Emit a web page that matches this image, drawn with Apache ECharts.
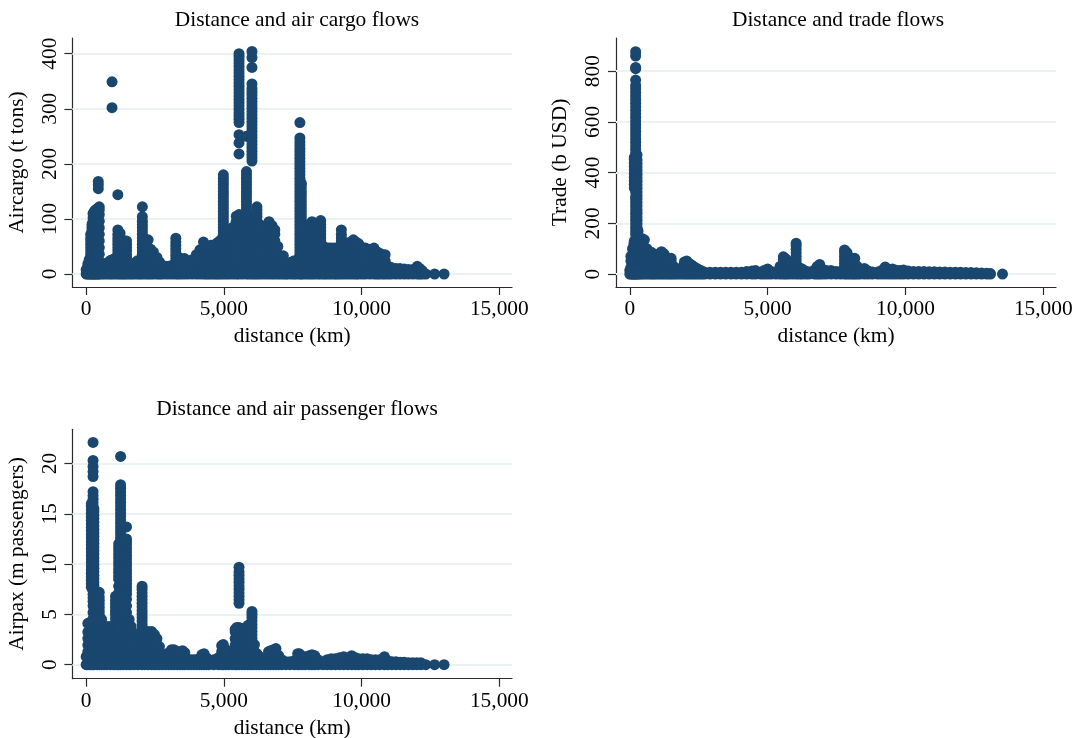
<!DOCTYPE html>
<html><head><meta charset="utf-8">
<style>html,body{margin:0;padding:0;background:#fff}#c{width:1081px;height:738px}</style>
<script src="https://cdn.jsdelivr.net/npm/echarts@6/dist/echarts.min.js"></script>
</head><body><div id="c"></div>
<script>
const titles=['Distance and air cargo flows','Distance and trade flows','Distance and air passenger flows'];
const yNames=['Aircargo (t tons)','Trade (b USD)','Airpax (m passengers)'];
const xName='distance (km)';
const xTicks=[0,5000,10000,15000];
const cargoTicks=[0,100,200,300,400];
const tradeTicks=[0,200,400,600,800];
const paxTicks=[0,5,10,15,20];

const cargoDistance=[0,60,110,165,210,250,300,340,390,440,476,570,660,760,860,939,1040,1150,1230,1310,1390,1465,1560,1650,1740,1860,1950,2040,2150,2250,2340,2440,2570,2660,2750,2880,3000,3130,3255,3350,3450,3570,3700,3850,4000,4130,4260,4350,4440,4530,4630,4720,4800,4890,4980,5090,5200,5330,5450,5550,5680,5820,5920,6020,6110,6200,6300,6410,6530,6640,6750,6850,6960,7060,7160,7250,7325,7450,7550,7640,7760,7810,7900,8010,8110,8200,8300,8420,8515,8620,8700,8800,8890,9000,9080,9170,9265,9370,9480,9590,9700,9800,9890,10020,10140,10300,10450,10560,10640,10760,10855,10970,11080,11240,11390,11550,11700,11860,12020,12110,12200,12330,12650,12995];
const cargoTons=[
[0,8],[0,12,18],[0,12,26],
[0,12,24,30,36,42,48,54,60,66,72],
[0,12,24,36,48,60,66,72,78,84,90],
[0,12,24,36,48,60,72,78,84,90,96,102,110],
[0,12,24,36,48,60,72,84,96,108,114],
[0,12,24,36,48,60,72,84,96,108,116],
[0,12,24,36,48,60,72,84,96,108,118],
[0,12,24,36,48,60,72,84,96,108,120,155,162,168],
[0,12,24,36,48,60,72,84,96,108,116,122],
[0,12,18],[0,12,18],[0,12,20],[0,12,24],
[0,12,26,302,349],[0,12,28],
[0,12,24,30,36,42,48,54,60,66,72,80,144],
[0,12,24,36,48,60,74],[0,12,24,36,48,62],[0,12,24,36,48,60],
[0,12,18,24,30,36,42,48,54,60],
[0,14],[0,12,16],[0,12,20],[0,12,24],[0,12,24],
[0,12,24,30,36,42,48,54,60,66,72,78,84,90,96,104,122],
[0,12,24,36,48,60],[0,12,24,36,48,62],[0,12,24,36,45],[0,12,24,40],[0,12,24,30],[0,12,22],[0,12,16],[0,14],[0,14],[0,16],
[0,12,22,28,34,40,46,52,58,65],
[0,12,24,30],[0,12,28],[0,12,28],[0,13],[0,12,26],[0,12,24,35],[0,12,24,36,44],[0,12,24,36,48,58],[0,12,24,36,48],[0,12,24,36,50],[0,12,24,36,52],[0,12,24,36,52],[0,12,24,36,48,55],[0,12,24,36,48,58],[0,12,24,36,48,62],
[0,12,24,36,48,60,66,72,78,84,90,96,102,108,114,120,126,132,138,144,150,156,162,168,174,180],
[0,12,24,36,48,60,77],[0,12,24,36,48,60,77],[0,12,24,36,48,60,72,85],
[0,12,24,36,48,60,72,84,96,105],
[0,12,24,36,48,60,72,84,96,108,218,238,253,275,281,287,293,299,305,311,317,323,329,335,341,347,353,359,365,371,377,383,389,395,400],
[0,12,24,36,48,60,72,84,96,104],
[0,12,24,36,48,60,72,84,96,102,108,114,120,126,132,138,144,150,156,162,168,174,180,186,250],
[0,12,24,36,48,60,72,84,96,104],
[0,12,24,36,48,60,72,84,100,205,211,217,223,229,235,241,247,253,259,265,271,277,283,289,295,301,307,313,319,325,331,337,345,375,393,404],
[0,12,24,36,48,60,72,84,100],
[0,12,24,36,48,60,72,84,96,104,110,116,122],
[0,12,24,36,48,60,72,84,90],
[0,12,24,36,48,60],
[0,12,24,36,48,60,72,85],
[0,12,24,36,48,60,72,84,95],
[0,12,24,36,48,60,72,88],
[0,12,24,36,48,60,72,80],
[0,12,24,36,50],[0,12,28],[0,12,24,33],[0,12,20],[0,16],[0,12,22],[0,12,24],[0,12,24],
[0,12,24,30,36,42,48,54,60,66,72,78,84,90,96,102,108,114,120,126,132,138,144,150,156,162,168,174,180,186,192,198,204,210,216,222,228,234,240,247,275],
[0,12,24,36,48,54,60,66,72,78,84,90,96,102,108,114,120,126,132,138,144,150,156,162,165],
[0,12,24,30],[0,12,24,40],
[0,12,24,36,48,60,72,84,90],
[0,12,24,36,48,54,60,66,72,78,84,90,95],
[0,12,24,36,48,60,72,84,92],
[0,12,24,36,48,60,72,84,90],
[0,12,24,36,48,54,60,66,72,78,84,90,97],
[0,12,24,36,50],[0,12,24,30],[0,12,24,36,47],[0,12,24,36,47],[0,12,24,36,47],[0,12,24,36,47],[0,12,24,36,47],
[0,12,24,36,48,54,60,66,72,80],
[0,12,24,36,50],[0,12,24,36,48,55],[0,12,24,36,48,58],[0,12,24,36,48,62],[0,12,24,36,48,58],[0,12,24,36,48,55],[0,12,24,36,48],[0,12,24,36,47],[0,12,24,36,45],[0,12,24,36,47],[0,12,24,40],[0,12,24,38],[0,12,24,35],[0,12,24,35],[0,14],[0,12],[0,10],[0,10],[0,9],[0,8],[0,8],[0,14],[0,10],[0,6],[0],[0],[0]
];

const tradeDistance=[0,40,100,150,163,213,263,300,370,440,530,620,720,800,880,960,1060,1150,1240,1330,1420,1500,1590,1680,1780,1880,1980,2065,2160,2250,2340,2430,2530,2620,2720,2910,3100,3290,3480,3670,3860,4050,4240,4430,4560,4750,4870,5000,5130,5300,5450,5570,5660,5760,5900,6035,6150,6250,6380,6500,6700,6800,6890,7000,7130,7300,7480,7640,7790,7880,7980,8080,8160,8250,8350,8510,8650,8800,8990,9130,9265,9400,9530,9660,9800,9930,10100,10290,10480,10670,10860,11050,11240,11430,11620,11810,12000,12190,12380,12570,12760,12950,13080,13520];
const tradeBillions=[
[0,15],[0,26,52,70],[0,26,52,78,100],[0,26,52,78,104,120],
[0,26,52,78,104,130,340,354,368,382,396,410,424,438,452,460],
[0,26,52,78,104,130,156,170,184,198,212,226,240,254,268,282,296,305,324,338,352,366,380,394,408,422,436,450,464,478,492,506,520,534,548,562,576,590,604,618,632,646,660,674,688,702,716,730,744,765,810,815,860,877],
[0,26,52,78,104,130,156,170,184,198,212,226,240,254,268,282,296,310,324,338,352,366,380,394,408,422,436,450,470],
[0,26,52,78,104,130,150,170],[0,26,52,78,104,130,140],[0,26,52,78,104,130,140],[0,26,52,78,104,135],[0,26,52,78,100],[0,26,52,88],[0,26,52,85],[0,26,52,70],[0,26,52,65],[0,26,52,80],[0,26,52,78,88],[0,26,52,80],[0,26,52,65],[0,26,52,62],[0,26,52,62],[0,30],[0,10],[0,12],[0,25],[0,26,48],[0,26,52],[0,26,42],[0,26,35],[0,28],[0,22],[0,16],[0,12],
[0,7],[0,7],[0,7],[0,7],[0,7],[0,7],[0,7],[0,7],[0,10],[0,12],[0,14],[0,8],[0,14],[0,20],[0,10],[0,8],[0,14,30],
[0,14,28,42,56,68],[0,14,28,42,60],[0,8],[0,10],
[0,14,28,42,56,70,84,98,112,122],
[0,25],[0,20],[0,12],[0,8],[0,16],[0,14,30],[0,14,28,38],[0,18],[0,14],[0,14],[0,10],[0,10],
[0,14,28,42,56,70,84,95],
[0,14,28,42,56,70,85],[0,26,50],[0,14,28,42,62],[0,14,28,42,62],[0,14,30],[0,14],[0,22],[0,12],[0,8],[0,8],[0,14],[0,28],[0,16],[0,20],[0,15],[0,14],[0,16],[0,12],[0,10],[0,10],[0,10],[0,9],[0,9],[0,8],[0,8],[0,7],[0,7],[0,7],[0,6],[0,6],[0,5],[0,4],[0,3],[0,2],[0]
];

const paxDistance=[0,60,130,188,250,280,400,475,560,650,750,875,980,1065,1150,1180,1250,1350,1465,1560,1630,1750,1880,2030,2130,2250,2380,2480,2570,2660,2760,2880,3000,3100,3190,3300,3400,3500,3580,3700,3800,3900,4000,4100,4200,4280,4370,4450,4630,4800,4920,4980,5070,5170,5300,5410,5470,5550,5660,5760,5870,5950,6020,6110,6200,6300,6400,6500,6620,6700,6800,6890,6990,7100,7250,7400,7560,7680,7740,7850,7950,8100,8200,8300,8420,8600,8750,8900,9050,9200,9350,9500,9640,9780,9900,10050,10200,10350,10500,10650,10830,10950,11100,11250,11400,11550,11700,11850,12000,12150,12330,12650,12995];
const paxMillions=[
[0,0.8],
[0,0.65,1.3,1.95,2.6,3.25,4.1],
[0,0.65,1.3,1.95,2.6,3.25,4.2],
[0,0.65,1.3,1.95,2.6,3.25,3.9,7.7,8.05,8.4,8.75,9.1,9.45,9.8,10.15,10.5,10.85,11.2,11.55,11.9,12.25,12.6,12.95,13.3,13.65,14,14.35,14.7,15.05,15.4,15.75,16.0],
[0,0.65,1.3,1.95,2.6,3.25,3.9,4.55,5.2,5.85,6.3,6.65,7,7.35,7.7,8.05,8.4,8.75,9.1,9.45,9.8,10.15,10.5,10.85,11.2,11.55,11.9,12.25,12.6,12.95,13.3,13.65,14,14.35,14.7,15.05,15.4,15.75,16.1,16.45,16.8,17.2,18.7,19.2,19.7,20.3,22.1],
[0,0.65,1.3,1.95,2.6,3.25,3.9,4.55,5.2,6.2,7.5,7.85,8.2,8.55,8.9,9.25,9.6,9.95,10.3,10.65,11,11.35,11.7,12.05,12.4,12.75,13.1,13.45,13.8,14.15,14.5,14.85,15.2,15.5],
[0,0.65,1.3,1.95,2.6,3.25,3.9,4.55,5.2,5.85,6.5],
[0,0.65,1.3,1.95,2.6,3.25,3.9,4.55,5.0,5.35,5.7,6.05,6.4,6.75,7.2],
[0,0.65,1.3,1.95,2.6,3.25,3.9,4.5],
[0,0.65,1.3,1.95,2.6,3.25,3.8],[0,0.65,1.3,1.95,2.6,3.25,3.8],[0,0.65,1.3,1.95,2.6,3.25,3.8],[0,0.65,1.3,1.95,2.6,3.25,3.8],
[0,0.65,1.3,1.95,2.6,3.25,3.9,4.55,5.0,5.35,5.7,6.05,6.4,6.8],
[0,0.65,1.3,1.95,2.6,3.25,3.9,4.55,5.2,5.85,6.5,6.8],
[0,0.65,1.3,1.95,2.6,3.25,3.9,4.55,5.2,5.85,6.5,7.15,7.8,8.5,8.85,9.2,9.55,9.9,10.25,10.6,10.95,11.3,11.65,12],
[0,0.65,1.3,1.95,2.6,3.25,3.9,4.55,5.2,5.85,6.5,7.15,7.8,8.1,8.45,8.8,9.15,9.5,9.85,10.2,10.55,10.9,11.25,11.6,11.95,12.3,12.65,13,13.35,13.7,14.05,14.4,14.75,15.1,15.45,15.8,16.15,16.5,16.85,17.2,17.55,17.9,20.7],
[0,0.65,1.3,1.95,2.6,3.25,3.9,4.55,5.2,5.85,6.5,7.15,7.8,8.45,9],
[0,0.65,1.3,1.95,2.6,3.25,3.9,4.55,5.2,5.85,6.5,7,7.35,7.7,8.05,8.4,8.75,9.1,9.45,9.8,10.15,10.5,10.85,11.2,11.55,11.9,12.25,12.5,13.7],
[0,0.65,1.3,1.95,2.6,3.25,3.9,4.5],[0,0.65,1.3,1.95,2.6,3.25,3.8],[0,0.65,1.3,1.95,2.6,3.1],[0,0.65,1.3,1.95,2.6],
[0,0.65,1.3,1.95,2.6,2.95,3.3,3.65,4,4.35,4.7,5.05,5.4,5.75,6.1,6.45,6.8,7.15,7.5,7.8],
[0,0.65,1.3,1.95,2.6,3.3],[0,0.65,1.3,1.95,2.6,3.3],[0,0.65,1.3,1.95,2.6,3.3],[0,0.65,1.3,1.95,2.6,3],[0,0.65,1.3,1.95,2.6],[0,0.65,1.3,1.8],[0,0.65,1],[0,0.65,1],[0,0.65,1.2],[0,0.65,1.5],[0,0.65,1.5],[0,0.65,1.3],[0,0.65,1.3],[0,0.65,1.4],[0,0.65,1.2],[0,0.5],[0,0.5],[0,0.5],[0,0.5],[0,0.6],[0,0.65,1],[0,0.65,1.1],[0,0.7],[0,0.4],[0,0.5],[0,0.7],
[0,0.65,1.3,1.9],[0,0.65,1.3,2],[0,0.65,1.5],[0,0.65,1],[0,0.65,1],[0,0.65,1.3,1.95,2.6,3.25,3.5],[0,0.65,1.3,1.95,2.6,3.25,3.7],
[0,0.65,1.3,1.95,2.6,3.25,3.7,6.1,6.45,6.8,7.15,7.5,7.85,8.2,8.55,8.9,9.25,9.7],
[0,0.65,1.3,1.95,2.6,3.25,3.6],[0,0.65,1.3,1.95,2.6,3.25,3.6],[0,0.65,1.3,1.95,2.6,3.25,3.9],[0,0.65,1.3,1.95,2.6,3.25,4],
[0,0.65,1.3,1.95,2.6,2.95,3.3,3.65,4,4.35,4.7,5,5.3],
[0,0.65,1.3,2],[0,0.65,1.1],[0,0.8],[0,0.5],[0,0.3],[0,0.65,1.3],[0,0.65,1.4],[0,0.65,1.5],[0,0.65,1.3,1.6],[0,0.65,0.9],[0,0.5],[0,0.3],[0,0.3],[0,0.4],[0,0.65,1.1],[0,0.65,1.1],[0,0.8],[0,0.8],[0,0.9],[0,1],[0,0.9],[0,0.5],[0,0.3],[0,0.5],[0,0.6],[0,0.6],[0,0.7],[0,0.8],[0,0.7],[0,0.9],[0,0.7],[0,0.6],[0,0.6],[0,0.6],[0,0.5],[0,0.5],[0,0.5],[0,0.8],[0,0.4],[0,0.3],[0,0.3],[0,0.25],[0,0.25],[0,0.2],[0,0.2],[0,0.2],[0,0.2],[0],[0],[0]
];

const navy='#1a476f', gridCol='#eaf2f3', axisCol='#2b2b2b', serif='"Liberation Serif","Times New Roman",serif', fs=21.4;

function points(dist,vals){const out=[];dist.forEach((d,i)=>vals[i].forEach(v=>out.push([d,v])));return out;}

const panels=[
 {grid:{left:72.4,top:38,width:439.6,height:249},ymin:-23.6,ymax:428.5,ticks:cargoTicks,data:points(cargoDistance,cargoTons),cx:292,ty:5},
 {grid:{left:616,top:38,width:440,height:249},ymin:-51,ymax:931,ticks:tradeTicks,data:points(tradeDistance,tradeBillions),cx:833,ty:5},
 {grid:{left:72.4,top:429.3,width:439.6,height:249.4},ymin:-1.39,ymax:23.4,ticks:paxTicks,data:points(paxDistance,paxMillions),cx:292,ty:394}
];
const xStart=-500, xEnd=15461;

const option={animation:false,backgroundColor:'#fff',
 title:panels.map((p,i)=>({text:titles[i],left:p.cx,top:p.ty,textAlign:'center',textStyle:{fontFamily:serif,fontSize:fs,fontWeight:'normal',color:'#000'}})),
 grid:panels.map(p=>Object.assign({outerBoundsMode:'none',containLabel:false},p.grid)),
 xAxis:panels.map((p,i)=>({type:'value',gridIndex:i,min:xStart,max:xEnd,name:xName,nameLocation:'middle',nameGap:39,
   nameTextStyle:{fontFamily:serif,fontSize:fs,color:'#000'},splitLine:{show:false},
   axisLine:{onZero:false,lineStyle:{color:axisCol,width:1.2}},
   axisTick:{customValues:xTicks,length:8,lineStyle:{color:axisCol,width:1.2}},
   axisLabel:{customValues:xTicks,margin:12,fontFamily:serif,fontSize:fs,color:'#000',formatter:v=>v.toLocaleString('en-US')}})),
 yAxis:panels.map((p,i)=>({type:'value',gridIndex:i,min:p.ymin,max:p.ymax,name:yNames[i],nameLocation:'middle',nameGap:45,nameRotate:90,
   nameTextStyle:{fontFamily:serif,fontSize:fs,color:'#000'},splitLine:{show:false},
   axisLine:{onZero:false,lineStyle:{color:axisCol,width:1.2}},
   axisTick:{customValues:p.ticks,length:8,lineStyle:{color:axisCol,width:1.2}},
   axisLabel:{customValues:p.ticks,rotate:90,margin:12,fontFamily:serif,fontSize:fs,color:'#000',formatter:v=>String(v)}})),
 series:panels.map((p,i)=>({type:'scatter',xAxisIndex:i,yAxisIndex:i,data:p.data,symbol:'circle',symbolSize:11,z:3,large:false,
   itemStyle:{color:navy,opacity:1},silent:true,
   markLine:{silent:true,symbol:'none',z:1,animation:false,label:{show:false},lineStyle:{color:gridCol,width:2,type:'solid'},data:p.ticks.map(t=>({yAxis:t}))}}))
};
echarts.init(document.getElementById('c'),null,{renderer:'canvas'}).setOption(option);
</script></body></html>
